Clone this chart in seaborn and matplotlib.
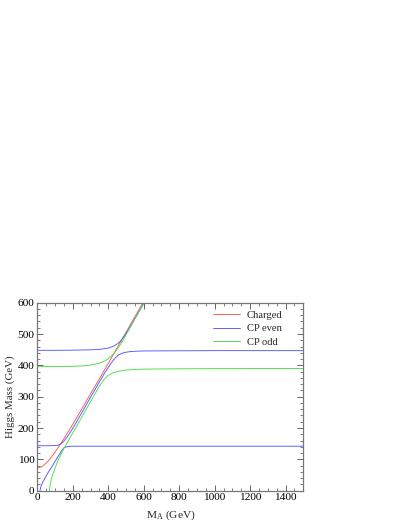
import matplotlib
matplotlib.use("Agg")
import matplotlib.pyplot as plt
from matplotlib.ticker import MultipleLocator
import seaborn as sns
import pandas as pd

# ---- data ----
charged_ma = [0, 25, 50, 75, 100, 125, 150, 175, 200, 250, 300, 350, 400, 450, 500, 550, 600]
charged_m = [72, 76, 88, 104, 123, 144, 166, 189, 212, 260, 309, 357, 406, 456, 505, 555, 604]

even1_ma = [15, 20, 30, 40, 50, 60, 75, 90, 105, 120, 135, 150, 165, 180, 200, 250, 300, 500, 1000, 1500]
even1_m = [0, 13, 26, 37, 47, 57, 70, 84, 98, 112, 126, 137, 140, 141.5, 142, 142, 142, 142, 142, 142]

even2_ma = [0, 50, 100, 115, 130, 145, 160, 180, 200, 250, 300, 350, 380, 400, 420, 440, 460, 480,
            500, 525, 550, 600, 800, 1000, 1500]
even2_m = [143.5, 143.5, 144, 145, 148, 155, 165, 181, 199, 248, 298, 347, 376, 393, 410, 424, 434, 439,
           442, 444, 445, 446, 446.5, 447, 447]

even3_ma = [0, 100, 200, 300, 350, 400, 425, 450, 470, 490, 510, 550, 600]
even3_m = [448, 448, 448.5, 449.5, 451, 455, 460, 468, 478, 493, 510, 549, 598]

odd1_ma = [68, 72, 80, 90, 100, 110, 125, 140, 157, 175, 200, 250, 300, 350, 375, 400, 425, 450,
           475, 500, 550, 600, 800, 1000, 1500]
odd1_m = [0, 18, 38, 56, 72, 87, 106, 124, 142, 160, 184, 234, 284, 333, 354, 368, 376, 380,
          383, 385, 387, 388, 389, 389.5, 390]

odd2_ma = [0, 100, 200, 250, 300, 350, 380, 400, 420, 440, 460, 480, 500, 550, 600]
odd2_m = [396, 396, 397, 398, 401, 407, 414, 421, 431, 443, 459, 477, 497, 548, 598]

x_ticks = [0, 200, 400, 600, 800, 1000, 1200, 1400]
y_ticks = [0, 100, 200, 300, 400, 500, 600]

# ---- style ----
sns.set_theme(style="ticks")
plt.rcParams["font.family"] = ["Liberation Serif", "DejaVu Serif"]
plt.rcParams["mathtext.fontset"] = "custom"
plt.rcParams["mathtext.rm"] = "Liberation Serif"
plt.rcParams["mathtext.it"] = "Liberation Serif:italic"

fig = plt.figure(figsize=(4.09, 5.29), dpi=100)
ax = fig.add_axes([0.0912, 0.0724, 0.6504, 0.3554])

RED, BLUE, GREEN = "#ff5555", "#5555ff", "#44e044"
LW = 0.65

curves = [
    (charged_ma, charged_m, RED, "Charged"),
    (even1_ma, even1_m, BLUE, "CP even"),
    (even2_ma, even2_m, BLUE, None),
    (even3_ma, even3_m, BLUE, None),
    (odd1_ma, odd1_m, GREEN, "CP odd"),
    (odd2_ma, odd2_m, GREEN, None),
]
for xs, ys, col, lab in curves:
    df = pd.DataFrame({"MA": xs, "M": ys})
    sns.lineplot(data=df, x="MA", y="M", color=col, lw=LW, ax=ax,
                 estimator=None, sort=True, label=lab, legend=False)

ax.set_xlim(0, 1500)
ax.set_ylim(0, 600)
ax.set_xticks(x_ticks)
ax.set_yticks(y_ticks)
ax.xaxis.set_minor_locator(MultipleLocator(50))
ax.yaxis.set_minor_locator(MultipleLocator(20))
ax.tick_params(which="both", direction="in", top=True, right=True, colors="#666666",
               labelcolor="black", labelsize=8.2, pad=2)
ax.tick_params(which="major", length=4, width=0.7)
ax.tick_params(which="minor", length=2, width=0.6)
for s in ax.spines.values():
    s.set_color("#777777")
    s.set_linewidth(0.9)

ax.set_xlabel(r"M$_\mathregular{A}$ (GeV)", fontsize=8.2, labelpad=4.5)
ax.set_ylabel("Higgs Mass (GeV)", fontsize=7.8, labelpad=2)

ax.legend(loc="upper left", bbox_to_anchor=(0.66, 0.958), frameon=False, fontsize=7.6,
          handlelength=2.6, handletextpad=0.6, labelspacing=0.38, borderpad=0, borderaxespad=0)

fig.savefig("out.png", dpi=100)
